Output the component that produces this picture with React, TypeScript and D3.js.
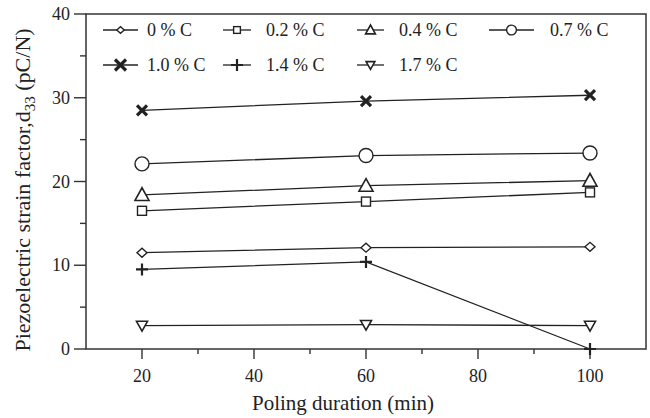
import React from 'react';
import * as d3 from 'd3';

// poling duration (min)
const durations = [20, 60, 100];

// d33 (pC/N) for each carbon content
const c00 = [11.5, 12.1, 12.2];
const c02 = [16.5, 17.6, 18.7];
const c04 = [18.4, 19.5, 20.1];
const c07 = [22.1, 23.1, 23.4];
const c10 = [28.5, 29.6, 30.3];
const c14 = [9.5, 10.4, 0];
const c17 = [2.8, 2.9, 2.8];

const xTicks = [20, 40, 60, 80, 100];
const xMinor = [30, 50, 70, 90];
const yTicks = [0, 10, 20, 30, 40];
const yMinor = [5, 15, 25, 35];

const series = [
  { name: '0 % C', values: c00, mark: 'diamond' },
  { name: '0.2 % C', values: c02, mark: 'square' },
  { name: '0.4 % C', values: c04, mark: 'triUp' },
  { name: '0.7 % C', values: c07, mark: 'circle' },
  { name: '1.0 % C', values: c10, mark: 'cross' },
  { name: '1.4 % C', values: c14, mark: 'plus' },
  { name: '1.7 % C', values: c17, mark: 'triDown' },
];

const INK = '#222';
const FONT = '"Liberation Serif", "Times New Roman", serif';

const Marker = ({ type, x, y, s = 1 }: { type: string; x: number; y: number; s?: number }) => {
  const common = { fill: 'white', stroke: INK, strokeWidth: 1.4 };
  if (type === 'diamond') {
    const w = 5 * s, h = 4.5 * s;
    return <path d={`M${x - w},${y}L${x},${y - h}L${x + w},${y}L${x},${y + h}Z`} {...common} />;
  }
  if (type === 'square') {
    const r = 4.5 * s;
    return <rect x={x - r} y={y - r} width={2 * r} height={2 * r} {...common} />;
  }
  if (type === 'circle') return <circle cx={x} cy={y} r={7 * s} {...common} />;
  if (type === 'triUp') {
    const w = 7 * s, h = 6.5 * s;
    return <path d={`M${x - w},${y + h * 0.85}L${x},${y - h * 1.1}L${x + w},${y + h * 0.85}Z`} {...common} strokeWidth={1.6} />;
  }
  if (type === 'triDown') {
    const w = 5.5 * s, h = 5 * s;
    return <path d={`M${x - w},${y - h * 0.85}L${x},${y + h * 1.1}L${x + w},${y - h * 0.85}Z`} {...common} strokeWidth={1.6} />;
  }
  if (type === 'cross') {
    const r = 5 * s;
    return <path d={`M${x - r},${y - r}L${x + r},${y + r}M${x - r},${y + r}L${x + r},${y - r}`} stroke={INK} strokeWidth={3.2} />;
  }
  // plus
  const r = 6 * s;
  return <path d={`M${x - r},${y}L${x + r},${y}M${x},${y - r}L${x},${y + r}`} stroke={INK} strokeWidth={2.2} />;
};

// legend marker size per symbol
const legendScale: Record<string, number> = {
  diamond: 0.75, square: 0.75, triUp: 0.7, circle: 0.7, cross: 1.1, plus: 1, triDown: 0.8,
};

// legend slots: [lineStart, lineEnd, textX, rowY]
const legendSlots = [
  [103, 138, 147, 30],
  [223, 251, 266, 30],
  [357, 384, 399, 30],
  [489, 534, 550, 30],
  [103, 138, 147, 65],
  [223, 251, 266, 65],
  [357, 384, 399, 65],
];

export default function App() {
  const W = 650, H = 418;
  const x = d3.scaleLinear().domain([10, 110]).range([86, 646]);
  const y = d3.scaleLinear().domain([0, 40]).range([349, 14]);
  const line = d3.line<number>().x((_, i) => x(durations[i])).y((d) => y(d));

  return (
    <svg width={W} height={H} style={{ position: 'absolute', left: 0, top: 0, background: 'white' }} fontFamily={FONT}>
      {/* frame */}
      <rect x={x(10)} y={y(40)} width={x(110) - x(10)} height={y(0) - y(40)} fill="none" stroke="#333" strokeWidth={1.5} />

      {/* x axis ticks */}
      {xTicks.map((t) => (
        <g key={'xt' + t}>
          <line x1={x(t)} x2={x(t)} y1={y(0)} y2={y(0) + 10} stroke="#333" strokeWidth={1.4} />
          <text x={x(t)} y={382} textAnchor="middle" fontSize={18} fill={INK}>{t}</text>
        </g>
      ))}
      {xMinor.map((t) => (
        <line key={'xm' + t} x1={x(t)} x2={x(t)} y1={y(0)} y2={y(0) + 5} stroke="#333" strokeWidth={1.4} />
      ))}

      {/* y axis ticks */}
      {yTicks.map((t) => (
        <g key={'yt' + t}>
          <line x1={x(10) - 12} x2={x(10)} y1={y(t)} y2={y(t)} stroke="#333" strokeWidth={1.4} />
          <text x={70} y={y(t) + 6} textAnchor="end" fontSize={18} fill={INK}>{t}</text>
        </g>
      ))}
      {yMinor.map((t) => (
        <line key={'ym' + t} x1={x(10) - 6} x2={x(10)} y1={y(t)} y2={y(t)} stroke="#333" strokeWidth={1.4} />
      ))}

      {/* axis titles */}
      <text x={343} y={410} textAnchor="middle" fontSize={21} fill={INK}>Poling duration (min)</text>
      <text transform="translate(30,190) rotate(-90)" textAnchor="middle" fontSize={22} fill={INK}>
        Piezoelectric strain factor,d<tspan fontSize={15} dy={5}>33</tspan>
        <tspan dy={-5}> (pC/N)</tspan>
      </text>

      {/* series */}
      {series.map((s) => (
        <g key={s.name}>
          <path d={line(s.values) || ''} fill="none" stroke={INK} strokeWidth={1.3} />
          {s.values.map((v, i) => (
            <Marker key={i} type={s.mark} x={x(durations[i])} y={y(v)} />
          ))}
        </g>
      ))}

      {/* legend */}
      {series.map((s, i) => {
        const [l0, l1, tx, ry] = legendSlots[i];
        return (
          <g key={'lg' + s.name}>
            <line x1={l0} x2={l1} y1={ry} y2={ry} stroke={INK} strokeWidth={1.3} />
            <Marker type={s.mark} x={(l0 + l1) / 2} y={ry} s={legendScale[s.mark]} />
            <text x={tx} y={ry + 6} fontSize={18} fill={INK}>{s.name}</text>
          </g>
        );
      })}
    </svg>
  );
}
